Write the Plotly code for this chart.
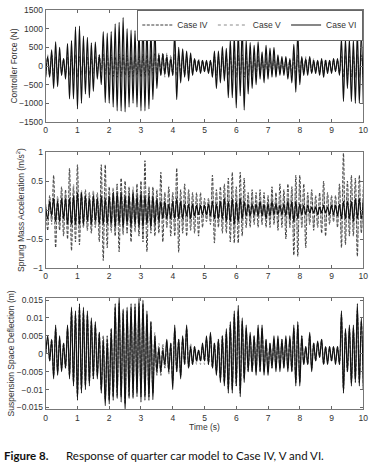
import numpy as np
import plotly.graph_objects as go

# sample times (s): extrema read every 1/16 s
time_s = np.arange(161) / 16

# ---- Controller force (N) ----
force_case_vi = (
    [-300, 250, -300, 430, -600, 650, -550, 500, -250, 200, -350, 600, -880, 680, -880, 1050]
    + [-1150, 1070, -1000, 800, -750, 770, -850, 620, -680, 640, -350, 300, -500, 920, -980, 880]
    + [-1000, 920, -1100, 1130, -1200, 1170, -1210, 1300, -1230, 1000, -1100, 960, -1000, 950, -1100, 1010]
    + [-1200, 1260, -1200, 1070, -1150, 960, -900, 1020, -600, 300, -250, 320, -200, 250, -300, 200]
    + [-250, 900, -900, 500, -450, 460, -300, 400, -400, 350, -250, 200, -150, 150, -200, 150]
    + [-150, 150, -200, 150, -300, 400, -600, 400, -450, 520, -400, 470, -850, 700, -850, 820]
    + [-1120, 920, -800, 1050, -1180, 700, -750, 630, -600, 550, -500, 650, -350, 380, -450, 550]
    + [-350, 480, -300, 500, -300, 300, -250, 250, -250, 250, -350, 200, -450, 580, -700, 900]
    + [-500, 250, -250, 200, -250, 250, -200, 150, -200, 150, -250, 200, -300, 150, -200, 150]
    + [-200, 200, -150, 200, -250, 730, -950, 730, -600, 720, -950, 700, -1000, 900, -1000, 900, -1000]
)
force_case_iv = (
    [-250, 200, -250, 300, -300, 250, -200, 220, -150, 180, -200, 250, -250, 280, -200, 300]
    + [-300, 250, -200, 220, -200, 250, -220, 200, -180, 250, -150, 300, -100, 320, -200, 280]
    + [-250, 300, -280, 250, -300, 320, -280, 300, -250, 280, -300, 250, -280, 300, -250, 280]
    + [-300, 320, -280, 300, -250, 300, -200, 350, -250, 330, -200, 350, -250, 300, -200, 250]
    + [-200, 300, -250, 280, -200, 250, -180, 230, -200, 200, -150, 180, -120, 150, -150, 150]
    + [-100, 120, -150, 150, -200, 250, -250, 200, -200, 230, -200, 250, -250, 250, -200, 280]
    + [-300, 280, -250, 300, -300, 250, -250, 230, -200, 250, -220, 250, -200, 200, -180, 220]
    + [-200, 220, -180, 200, -150, 180, -150, 150, -130, 150, -180, 160, -200, 250, -250, 300]
    + [-250, 200, -150, 180, -150, 200, -180, 150, -120, 130, -150, 150, -180, 150, -130, 150]
    + [-150, 150, -120, 150, -180, 250, -300, 280, -250, 250, -300, 280, -300, 300, -300, 280, -300]
)
force_case_v = (
    [-200, 300, -250, 200, -200, 250, -250, 150, -200, 200, -150, 200, -200, 250, -250, 250]
    + [-250, 200, -250, 250, -200, 200, -250, 250, -200, 200, -150, 250, -200, 300, -250, 250]
    + [-200, 250, -250, 200, -250, 280, -250, 250, -200, 250, -250, 200, -250, 250, -200, 250]
    + [-250, 280, -250, 250, -200, 250, -250, 300, -300, 350, -250, 300, -300, 350, -250, 300]
    + [-250, 350, -300, 300, -250, 300, -250, 200, -250, 250, -200, 150, -150, 200, -100, 150]
    + [-150, 100, -150, 100, -150, 200, -200, 250, -250, 200, -250, 200, -200, 250, -300, 250]
    + [-250, 300, -300, 250, -250, 250, -200, 200, -250, 200, -200, 300, -200, 250, -250, 200]
    + [-250, 250, -200, 250, -200, 200, -200, 200, -150, 200, -250, 150, -200, 250, -300, 300]
    + [-250, 200, -200, 250, -150, 200, -150, 200, -150, 150, -200, 150, -200, 200, -150, 150]
    + [-150, 200, -150, 150, -200, 250, -250, 300, -250, 250, -300, 250, -300, 300, -250, 300, -250]
)

# ---- Sprung mass acceleration (m/s^2) ----
accel_case_iv = (
    [0.1, -0.35, 0.25, -0.2, 0.6, -0.65, 0.2, -0.35, 0.4, -0.45, 0.35, -0.5, 0.72, -0.7, 0.4, -0.55]
    + [0.78, -0.6, 0.3, -0.3, 0.35, -0.35, 0.3, -0.4, 0.3, -0.3, 0.3, -0.55, 0.78, -0.87, 0.78, -0.65]
    + [0.4, -0.35, 0.35, -0.45, 0.45, -0.72, 0.55, -0.4, 0.5, -0.4, 0.4, -0.55, 0.35, -0.35, 0.45, -0.45]
    + [0.5, -0.55, 0.85, -0.72, 0.4, -0.4, 0.4, -0.45, 0.35, -0.4, 0.65, -0.55, 0.3, -0.3, 0.4, -0.45]
    + [0.3, -0.45, 0.72, -0.73, 0.35, -0.4, 0.45, -0.45, 0.35, -0.35, 0.3, -0.4, 0.3, -0.45, 0.3, -0.3]
    + [0.2, -0.2, 0.2, -0.25, 0.6, -0.57, 0.35, -0.3, 0.4, -0.4, 0.45, -0.4, 0.55, -0.55, 0.65, -0.57]
    + [0.4, -0.57, 0.65, -0.45, 0.55, -0.3, 0.3, -0.3, 0.35, -0.25, 0.3, -0.3, 0.35, -0.25, 0.3, -0.3]
    + [0.25, -0.3, 0.4, -0.25, 0.3, -0.35, 0.45, -0.3, 0.35, -0.5, 0.45, -0.3, 0.4, -0.78, 0.6, -0.8]
    + [0.6, -0.3, 0.45, -0.65, 0.3, -0.25, 0.35, -0.35, 0.25, -0.3, 0.3, -0.4, 0.5, -0.45, 0.3, -0.25]
    + [0.25, -0.2, 0.25, -0.3, 0.45, -0.65, 0.98, -0.6, 0.5, -0.45, 0.6, -0.45, 0.55, -0.8, 0.6, -0.4, 0.4]
)
accel_case_v = (
    [0.0, -0.2, 0.2, -0.25, 0.3, -0.35, 0.25, -0.3, 0.35, -0.3, 0.3, -0.35, 0.4, -0.4, 0.45, -0.4]
    + [0.45, -0.4, 0.35, -0.3, 0.3, -0.35, 0.3, -0.3, 0.35, -0.3, 0.3, -0.4, 0.45, -0.45, 0.5, -0.4]
    + [0.35, -0.4, 0.4, -0.4, 0.45, -0.45, 0.4, -0.45, 0.4, -0.4, 0.35, -0.4, 0.4, -0.4, 0.45, -0.4]
    + [0.45, -0.45, 0.5, -0.45, 0.4, -0.35, 0.35, -0.35, 0.3, -0.3, 0.4, -0.35, 0.3, -0.3, 0.35, -0.3]
    + [0.3, -0.35, 0.45, -0.4, 0.3, -0.3, 0.3, -0.35, 0.3, -0.3, 0.25, -0.3, 0.25, -0.25, 0.2, -0.2]
    + [0.15, -0.2, 0.2, -0.2, 0.35, -0.35, 0.3, -0.25, 0.3, -0.3, 0.35, -0.3, 0.4, -0.35, 0.4, -0.4]
    + [0.35, -0.4, 0.4, -0.35, 0.35, -0.3, 0.25, -0.25, 0.3, -0.2, 0.25, -0.25, 0.3, -0.25, 0.25, -0.25]
    + [0.25, -0.25, 0.3, -0.25, 0.25, -0.3, 0.3, -0.25, 0.3, -0.35, 0.35, -0.3, 0.4, -0.45, 0.45, -0.5]
    + [0.4, -0.3, 0.35, -0.4, 0.25, -0.25, 0.3, -0.25, 0.2, -0.25, 0.25, -0.3, 0.35, -0.3, 0.25, -0.2]
    + [0.2, -0.2, 0.2, -0.25, 0.35, -0.4, 0.5, -0.4, 0.4, -0.35, 0.4, -0.35, 0.4, -0.5, 0.45, -0.35, 0.3]
)
accel_case_vi = (
    [0.05, -0.15, 0.15, -0.1, 0.2, -0.2, 0.15, -0.2, 0.2, -0.15, 0.2, -0.25, 0.2, -0.25, 0.25, -0.25]
    + [0.3, -0.25, 0.3, -0.25, 0.25, -0.2, 0.2, -0.25, 0.25, -0.2, 0.2, -0.25, 0.25, -0.25, 0.2, -0.25]
    + [0.25, -0.25, 0.3, -0.3, 0.3, -0.25, 0.3, -0.3, 0.25, -0.25, 0.25, -0.3, 0.3, -0.25, 0.25, -0.3]
    + [0.3, -0.3, 0.25, -0.25, 0.25, -0.3, 0.25, -0.25, 0.2, -0.2, 0.15, -0.15, 0.15, -0.15, 0.1, -0.15]
    + [0.15, -0.15, 0.2, -0.15, 0.15, -0.15, 0.1, -0.1, 0.1, -0.15, 0.1, -0.1, 0.08, -0.08, 0.08, -0.08]
    + [0.08, -0.08, 0.1, -0.1, 0.15, -0.15, 0.1, -0.15, 0.15, -0.15, 0.2, -0.2, 0.15, -0.2, 0.2, -0.25]
    + [0.15, -0.2, 0.2, -0.15, 0.15, -0.1, 0.1, -0.1, 0.1, -0.08, 0.1, -0.1, 0.15, -0.1, 0.1, -0.15]
    + [0.1, -0.1, 0.15, -0.08, 0.1, -0.08, 0.08, -0.08, 0.1, -0.1, 0.15, -0.15, 0.15, -0.2, 0.15, -0.15]
    + [0.1, -0.08, 0.08, -0.08, 0.08, -0.05, 0.05, -0.05, 0.05, -0.08, 0.05, -0.05, 0.08, -0.05, 0.05, -0.08]
    + [0.08, -0.08, 0.08, -0.1, 0.1, -0.15, 0.15, -0.15, 0.15, -0.15, 0.15, -0.2, 0.2, -0.15, 0.2, -0.15, 0.15]
)

# ---- Suspension space deflection (m) ----
defl_case_vi = (
    [0.0, 0.005, -0.002, 0.004, -0.007, 0.008, -0.006, 0.005, -0.005, 0.003, -0.004, 0.008, -0.007, 0.013, -0.009, 0.012]
    + [-0.013, 0.014, -0.011, 0.013, -0.01, 0.012, -0.009, 0.01, -0.007, 0.009, -0.007, 0.006, -0.011, 0.004, -0.0145, 0.004]
    + [-0.014, 0.007, -0.013, 0.014, -0.0125, 0.016, -0.0135, 0.0125, -0.016, 0.013, -0.0125, 0.014, -0.0125, 0.014, -0.012, 0.0155]
    + [-0.0135, 0.015, -0.013, 0.012, -0.013, 0.009, -0.0128, 0.005, -0.005, 0.0015, -0.005, 0.001, -0.003, 0.004, -0.005, 0.003]
    + [-0.01, 0.008, -0.005, 0.004, -0.007, 0.005, -0.003, 0.008, -0.004, 0.002, -0.003, 0.002, -0.002, 0.001, -0.002, 0.003]
    + [-0.002, 0.005, -0.003, 0.006, -0.004, 0.003, -0.006, 0.004, -0.008, 0.005, -0.009, 0.007, -0.011, 0.009, -0.011, 0.012]
    + [-0.009, 0.0135, -0.012, 0.01, -0.008, 0.008, -0.005, 0.006, -0.005, 0.005, -0.006, 0.008, -0.005, 0.008, -0.006, 0.004]
    + [-0.006, 0.003, -0.004, 0.005, -0.005, 0.005, -0.005, 0.004, -0.004, 0.005, -0.005, 0.005, -0.005, 0.008, -0.009, 0.009]
    + [-0.009, 0.005, -0.003, 0.002, -0.003, 0.006, -0.005, 0.003, -0.002, 0.0035, -0.001, 0.004, -0.003, 0.002, -0.003, 0.002]
    + [-0.002, 0.002, -0.003, 0.002, -0.003, 0.012, -0.011, 0.007, -0.005, 0.008, -0.009, 0.008, -0.008, 0.014, -0.009, 0.01, -0.01]
)
defl_case_iv = (
    [0.0, 0.004, -0.002, 0.004, -0.006, 0.007, -0.005, 0.004, -0.004, 0.003, -0.004, 0.007, -0.006, 0.012, -0.008, 0.011]
    + [-0.012, 0.013, -0.01, 0.012, -0.009, 0.011, -0.008, 0.009, -0.007, 0.008, -0.006, 0.006, -0.01, 0.005, -0.013, 0.005]
    + [-0.013, 0.007, -0.012, 0.013, -0.012, 0.014, -0.012, 0.012, -0.014, 0.012, -0.012, 0.013, -0.012, 0.013, -0.011, 0.014]
    + [-0.012, 0.014, -0.012, 0.011, -0.012, 0.009, -0.011, 0.005, -0.006, 0.002, -0.006, 0.002, -0.004, 0.003, -0.005, 0.003]
    + [-0.008, 0.007, -0.005, 0.004, -0.006, 0.004, -0.003, 0.007, -0.004, 0.002, -0.003, 0.002, -0.002, 0.001, -0.002, 0.002]
    + [-0.002, 0.004, -0.003, 0.005, -0.004, 0.003, -0.005, 0.004, -0.007, 0.005, -0.008, 0.006, -0.01, 0.008, -0.01, 0.011]
    + [-0.009, 0.012, -0.011, 0.009, -0.007, 0.007, -0.005, 0.005, -0.005, 0.005, -0.005, 0.007, -0.005, 0.007, -0.005, 0.004]
    + [-0.005, 0.003, -0.004, 0.004, -0.004, 0.004, -0.004, 0.004, -0.004, 0.004, -0.004, 0.004, -0.005, 0.007, -0.008, 0.008]
    + [-0.008, 0.005, -0.003, 0.002, -0.003, 0.005, -0.004, 0.003, -0.002, 0.003, -0.001, 0.004, -0.003, 0.002, -0.002, 0.002]
    + [-0.002, 0.002, -0.002, 0.002, -0.003, 0.011, -0.01, 0.006, -0.005, 0.007, -0.008, 0.007, -0.007, 0.012, -0.008, 0.009, -0.009]
)
defl_case_v = (
    [0.0, 0.004, -0.001, 0.003, -0.006, 0.006, -0.005, 0.004, -0.004, 0.002, -0.003, 0.007, -0.006, 0.011, -0.008, 0.011]
    + [-0.011, 0.012, -0.01, 0.011, -0.009, 0.01, -0.008, 0.009, -0.006, 0.008, -0.006, 0.005, -0.01, 0.005, -0.012, 0.005]
    + [-0.012, 0.006, -0.012, 0.012, -0.011, 0.014, -0.012, 0.011, -0.013, 0.012, -0.011, 0.012, -0.011, 0.012, -0.011, 0.013]
    + [-0.012, 0.013, -0.011, 0.011, -0.011, 0.008, -0.011, 0.006, -0.006, 0.003, -0.006, 0.003, -0.004, 0.004, -0.006, 0.003]
    + [-0.007, 0.006, -0.005, 0.004, -0.006, 0.005, -0.003, 0.006, -0.004, 0.003, -0.003, 0.002, -0.003, 0.001, -0.003, 0.002]
    + [-0.003, 0.004, -0.002, 0.005, -0.004, 0.003, -0.005, 0.004, -0.007, 0.004, -0.008, 0.006, -0.009, 0.008, -0.01, 0.01]
    + [-0.008, 0.012, -0.011, 0.009, -0.007, 0.007, -0.004, 0.005, -0.005, 0.004, -0.005, 0.007, -0.004, 0.007, -0.005, 0.004]
    + [-0.005, 0.003, -0.004, 0.004, -0.004, 0.004, -0.004, 0.004, -0.004, 0.004, -0.004, 0.004, -0.004, 0.007, -0.008, 0.008]
    + [-0.008, 0.004, -0.003, 0.002, -0.003, 0.005, -0.004, 0.003, -0.001, 0.003, -0.001, 0.004, -0.003, 0.002, -0.002, 0.002]
    + [-0.002, 0.002, -0.002, 0.002, -0.002, 0.01, -0.01, 0.006, -0.005, 0.007, -0.008, 0.007, -0.008, 0.012, -0.008, 0.009, -0.009]
)

case_names = ["Case IV", "Case V", "Case VI"]
x_ticks = list(range(0, 11))
force_ticks = [-1500, -1000, -500, 0, 500, 1000, 1500]
accel_ticks = [-1, -0.5, 0, 0.5, 1]
defl_ticks = [-0.015, -0.01, -0.005, 0, 0.005, 0.01, 0.015]

W, H = 377, 474
styles = [
    dict(color="#3a3a3a", width=1, dash="3px,1.5px"),
    dict(color="#8a8a8a", width=1, dash="dot"),
    dict(color="#111111", width=1.2, dash="solid"),
]

fig = go.Figure()
panels = [
    ("x", "y", [force_case_iv, force_case_v, force_case_vi]),
    ("x2", "y2", [accel_case_iv, accel_case_v, accel_case_vi]),
    ("x3", "y3", [defl_case_iv, defl_case_v, defl_case_vi]),
]
for pi, (xa, ya, series) in enumerate(panels):
    for si, vals in enumerate(series):
        fig.add_trace(go.Scatter(
            x=time_s, y=vals, xaxis=xa, yaxis=ya, mode="lines",
            line=dict(shape="spline", smoothing=1.0, **styles[si]),
            name=case_names[si], legendgroup=case_names[si],
            showlegend=(pi == 0),
        ))

def py(top, bottom):
    return [(H - bottom) / H, (H - top) / H]

xdom = [45.7 / W, 363.3 / W]
tickfont = dict(family="Liberation Sans, Arial, sans-serif", size=8.5, color="#333")
common_x = dict(range=[0, 10], tickvals=x_ticks, ticks="inside", ticklen=3,
                tickcolor="#666", showline=True, linecolor="#777", linewidth=1,
                mirror="ticks", showgrid=False, zeroline=False, tickfont=tickfont,
                domain=xdom, automargin=False)
common_y = dict(ticks="inside", ticklen=3, tickcolor="#666", showline=True,
                linecolor="#777", linewidth=1, mirror="ticks", showgrid=False,
                zeroline=False, tickfont=tickfont, automargin=False)
titlefont = dict(family="Liberation Sans, Arial, sans-serif", size=8.5, color="#333")

fig.update_layout(
    width=W, height=H, margin=dict(l=0, r=0, t=0, b=0, autoexpand=False),
    paper_bgcolor="white", plot_bgcolor="white",
    xaxis=dict(**common_x, anchor="y"),
    xaxis2=dict(**common_x, anchor="y2"),
    xaxis3=dict(**common_x, anchor="y3",
                title=dict(text="Time (s)", font=titlefont, standoff=2)),
    yaxis=dict(**common_y, domain=py(10, 122), range=[-1500, 1500], tickvals=force_ticks,
               anchor="x", title=dict(text="Controller Force (N)", font=titlefont, standoff=0)),
    yaxis2=dict(**common_y, domain=py(152, 268), range=[-1, 1], tickvals=accel_ticks,
                anchor="x2", title=dict(text="Sprung Mass Acceleration (m/s<sup>2</sup>)",
                                        font=titlefont, standoff=0)),
    yaxis3=dict(**common_y, domain=py(297.5, 409.3), range=[-0.0155, 0.0157], tickvals=defl_ticks,
                anchor="x3", title=dict(text="Suspension Space Deflection (m)", font=titlefont, standoff=0)),
    legend=dict(orientation="h", x=xdom[1], xanchor="right", y=(H - 9.5) / H, yanchor="top",
                bgcolor="white", bordercolor="#666", borderwidth=1,
                font=dict(family="Liberation Sans, Arial, sans-serif", size=8.5, color="#333"),
                tracegroupgap=0, itemwidth=30),
    showlegend=True,
)

capfont = dict(family="Lato, Open Sans, sans-serif", size=11.5, color="#111")
fig.add_annotation(xref="paper", yref="paper", x=2.0 / W, y=(H - 455) / H,
                   xanchor="left", yanchor="middle", showarrow=False,
                   text="<b>Figure 8.</b>", font=capfont)
fig.add_annotation(xref="paper", yref="paper", x=64 / W, y=(H - 455) / H,
                   xanchor="left", yanchor="middle", showarrow=False,
                   text="Response of quarter car model to Case IV, V and VI.", font=capfont)

fig.write_html("out.html", config={"displayModeBar": False},
               post_script="document.body.style.margin='0';document.body.style.padding='0';")
